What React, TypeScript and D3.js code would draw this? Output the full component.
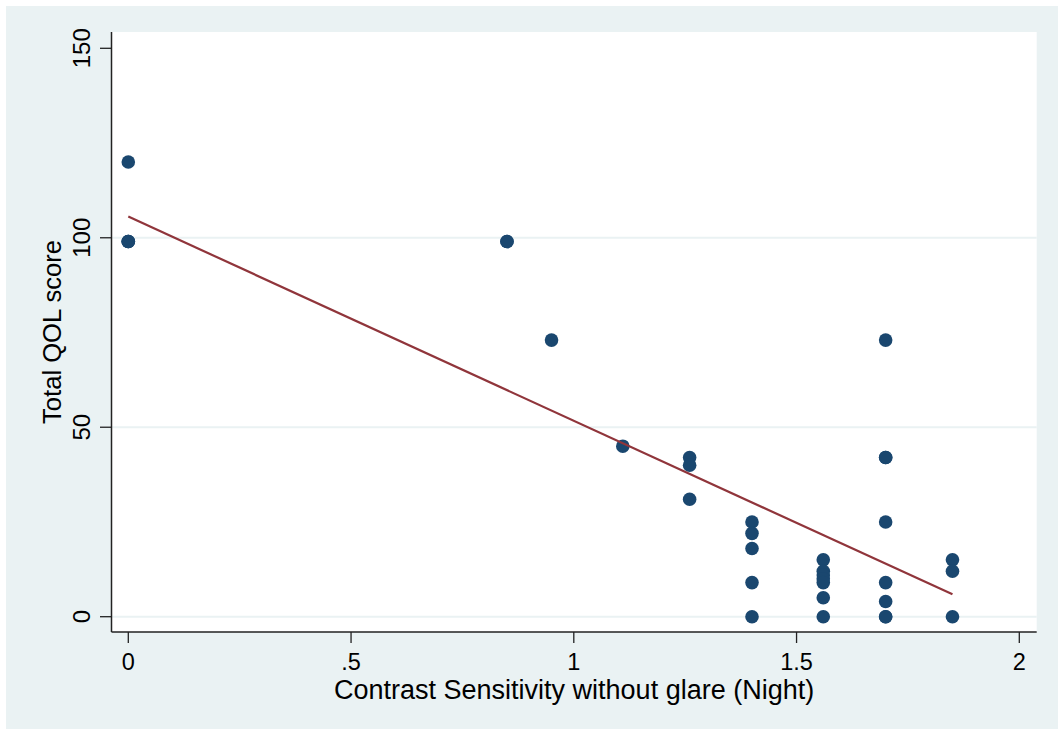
import React from "react";
import * as d3 from "d3";

const csValues = [0, 0, 0, 0, 0.85, 0.85, 0.95, 1.11, 1.26, 1.26, 1.26, 1.4, 1.4, 1.4, 1.4, 1.4, 1.56, 1.56, 1.56, 1.56, 1.56, 1.56, 1.56, 1.7, 1.7, 1.7, 1.7, 1.7, 1.7, 1.7, 1.7, 1.85, 1.85, 1.85];
const qolValues = [120, 99, 99, 99, 99, 99, 73, 45, 42, 40, 31, 25, 22, 18, 9, 0, 15, 12, 11, 10, 9, 5, 0, 73, 42, 42, 25, 9, 4, 0, 0, 15, 12, 0];
const fitX = [0, 1.85];
const fitY = [105.6, 5.9];
const xTicks = [0, 0.5, 1, 1.5, 2];
const yTicks = [0, 50, 100, 150];
const gridTicks = [0, 50, 100];
const xTitle = "Contrast Sensitivity without glare (Night)";
const yTitle = "Total QOL score";

const W = 1058;
const H = 729;
const plot = { left: 111.5, right: 1036.7, top: 32, bottom: 632 };
const FONT = "'Liberation Sans', Arial, Helvetica, sans-serif";

const fmtX = (v: number) => (v === 0 ? "0" : v < 1 ? String(v).replace(/^0/, "") : String(v));

export default function App() {
  const x = d3.scaleLinear().domain([0, 2]).range([128.3, 1019.3]);
  const y = d3.scaleLinear().domain([0, 150]).range([616.7, 48.3]);
  const line = d3
    .line<number>()
    .x((_, i) => x(fitX[i]))
    .y((d) => y(d));

  return (
    <svg
      width={W}
      height={H}
      style={{ position: "fixed", left: 0, top: 0, background: "#ffffff" }}
      fontFamily={FONT}
    >
      <rect x={6} y={6} width={W - 6} height={H - 6} fill="#EAF2F3" />
      <rect
        x={plot.left}
        y={plot.top}
        width={plot.right - plot.left}
        height={plot.bottom - plot.top}
        fill="#ffffff"
      />
      {gridTicks.map((t) => (
        <line
          key={"g" + t}
          x1={plot.left}
          x2={plot.right}
          y1={y(t)}
          y2={y(t)}
          stroke="#EAF2F3"
          strokeWidth={2}
        />
      ))}
      {csValues.map((cv, i) => (
        <circle key={"p" + i} cx={x(cv)} cy={y(qolValues[i])} r={6.8} fill="#1A476F" />
      ))}
      <path d={line(fitY) || ""} fill="none" stroke="#90353B" strokeWidth={2.2} />
      {/* axes */}
      <line x1={plot.left} x2={plot.left} y1={plot.top} y2={plot.bottom} stroke="#222" strokeWidth={1.5} />
      <line x1={plot.left} x2={plot.right} y1={plot.bottom} y2={plot.bottom} stroke="#222" strokeWidth={1.5} />
      {yTicks.map((t) => (
        <g key={"yt" + t}>
          <line x1={100} x2={plot.left} y1={y(t)} y2={y(t)} stroke="#222" strokeWidth={1.3} />
          <text
            transform={`translate(90,${y(t)}) rotate(-90)`}
            textAnchor="middle"
            fontSize={24}
            fill="#000"
          >
            {String(t)}
          </text>
        </g>
      ))}
      {xTicks.map((t) => (
        <g key={"xt" + t}>
          <line x1={x(t)} x2={x(t)} y1={plot.bottom} y2={643} stroke="#222" strokeWidth={1.3} />
          <text x={x(t)} y={670} textAnchor="middle" fontSize={23.5} fill="#000">
            {fmtX(t)}
          </text>
        </g>
      ))}
      <text x={(plot.left + plot.right) / 2} y={699} textAnchor="middle" fontSize={27} fill="#000">
        {xTitle}
      </text>
      <text
        transform={`translate(61,${332}) rotate(-90)`}
        textAnchor="middle"
        fontSize={25.6}
        fill="#000"
      >
        {yTitle}
      </text>
    </svg>
  );
}
